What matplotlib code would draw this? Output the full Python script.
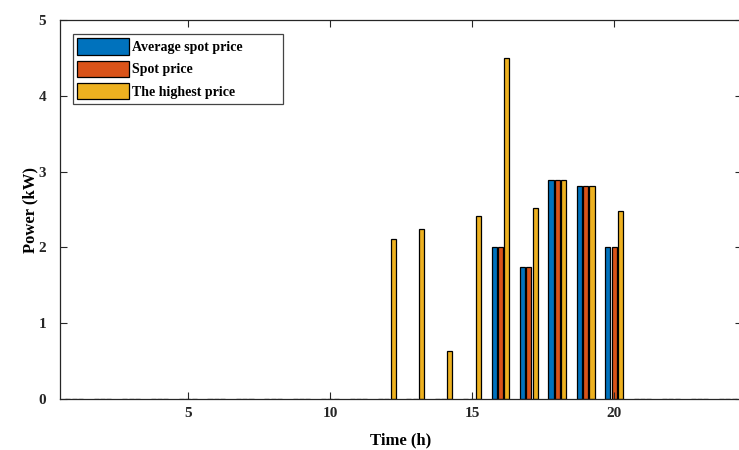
import numpy as np
import matplotlib.pyplot as plt

plt.rcParams['font.family'] = ['Liberation Serif', 'DejaVu Serif']
plt.rcParams['font.weight'] = 'bold'

hours = np.arange(1, 25)
avg_spot = [0, 0, 0, 0, 0, 0, 0, 0, 0, 0, 0, 0, 0, 0, 0, 2.0, 1.74, 2.89, 2.81, 2.0, 0, 0, 0, 0]
spot = [0, 0, 0, 0, 0, 0, 0, 0, 0, 0, 0, 0, 0, 0, 0, 2.0, 1.74, 2.89, 2.81, 2.0, 0, 0, 0, 0]
highest = [0, 0, 0, 0, 0, 0, 0, 0, 0, 0, 0, 2.11, 2.24, 0.63, 2.41, 4.5, 2.52, 2.89, 2.81, 2.48, 0, 0, 0, 0]
labels = ['Average spot price', 'Spot price', 'The highest price']
colors = ['#0072BD', '#D95319', '#EDB120']

fig = plt.figure(figsize=(7.39, 4.5), dpi=100)
ax = fig.add_axes([60 / 739, 51 / 450, 682 / 739, 379 / 450])

# MATLAB style grouped bars
step = 0.222
width = 0.178
for i, (vals, lab, col) in enumerate(zip([avg_spot, spot, highest], labels, colors)):
    ax.bar(hours + (i - 1) * step, vals, width=width, color=col,
           edgecolor='black', linewidth=0.9, label=lab)

ax.set_xlim(0.5, 24.5)
ax.set_ylim(0, 5)
ax.set_xticks([5, 10, 15, 20])
ax.set_yticks([0, 1, 2, 3, 4, 5])
ax.tick_params(direction='in', length=5, width=0.8, colors='#262626',
               labelsize=11, top=True, right=True)
ax.tick_params(axis='y', pad=10)
ax.tick_params(axis='x', pad=6)
for s in ax.spines.values():
    s.set_color('#262626')
    s.set_linewidth(0.9)

ax.set_xlabel('Time (h)', fontsize=12, fontweight='bold', labelpad=9)
ax.set_ylabel('Power (kW)', fontsize=12, fontweight='bold', labelpad=0)

# legend box stretched wider than its text, like MATLAB
leg = ax.legend(loc='upper left', bbox_to_anchor=(0.019, 0.963, 0.308, 0.0),
                mode='expand', fontsize=10,
                handlelength=3.7, handleheight=1.45, handletextpad=0.25,
                labelspacing=0.42, borderpad=0.3, borderaxespad=0,
                fancybox=False, edgecolor='#444444', framealpha=1)
leg.get_frame().set_linewidth(0.9)

fig.savefig('out.png', dpi=100)
